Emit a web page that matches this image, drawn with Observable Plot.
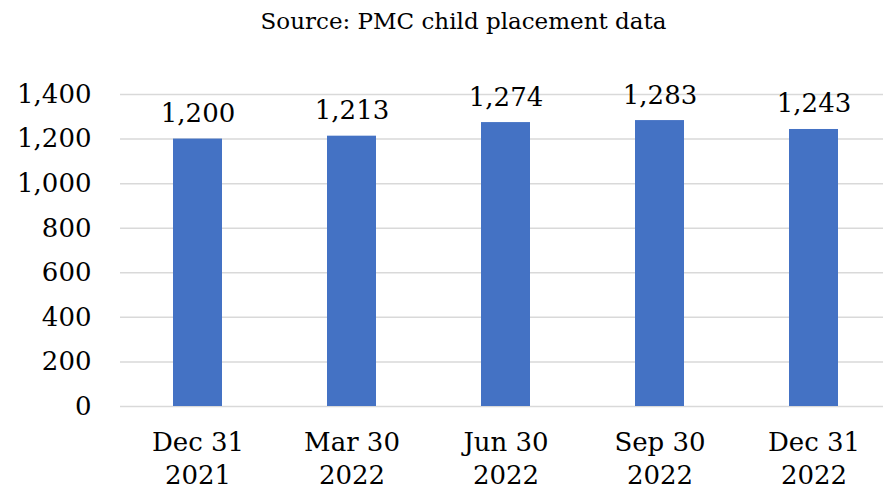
<!DOCTYPE html>
<html>
<head>
<meta charset="utf-8">
<script src="https://cdn.jsdelivr.net/npm/d3@7"></script>
<script src="https://cdn.jsdelivr.net/npm/@observablehq/plot@0.6"></script>
<style>
  html, body { margin: 0; padding: 0; background: #fff; }
  #title { height: 52px; box-sizing: border-box; padding-top: 8px; padding-left: 44px; text-align: center;
    font-family: "DejaVu Serif", serif; font-size: 23px; color: #000; width: 883px; }
  svg { display: block; }
</style>
</head>
<body>
<div id="title">Source: PMC child placement data</div>
<div id="chart"></div>
<script>
const categories = ["Dec 31\n2021", "Mar 30\n2022", "Jun 30\n2022", "Sep 30\n2022", "Dec 31\n2022"];
const values = [1200, 1213, 1274, 1283, 1243];
const yTicks = [0, 200, 400, 600, 800, 1000, 1200, 1400];

const data = categories.map((c, i) => ({category: c, value: values[i]}));
const font = "DejaVu Serif, serif";

const chart = Plot.plot({
  width: 883,
  height: 441,
  marginLeft: 120,
  marginRight: -9,
  marginTop: 42,
  marginBottom: 87,
  style: {fontFamily: font, color: "#000", background: "#fff"},
  x: {domain: categories, paddingInner: 0.68, paddingOuter: 0.34, label: null},
  y: {domain: [0, 1400], ticks: yTicks, label: null},
  marks: [
    Plot.ruleY(yTicks, {stroke: "#d9d9d9", strokeWidth: 1.5}),
    Plot.barY(data, {x: "category", y: "value", fill: "#4472c4"}),
    Plot.text(data, {x: "category", y: "value", text: d => d3.format(",")(d.value),
      lineAnchor: "bottom", dy: -17, fontSize: 26, fill: "#000"}),
    Plot.axisY({ticks: yTicks, tickSize: 0, tickPadding: 29, fontSize: 26, tickFormat: d3.format(","), label: null}),
    Plot.axisX({tickSize: 0, tickPadding: 20, fontSize: 26, lineHeight: 1.3, label: null})
  ]
});
document.getElementById("chart").appendChild(chart);
</script>
</body>
</html>
